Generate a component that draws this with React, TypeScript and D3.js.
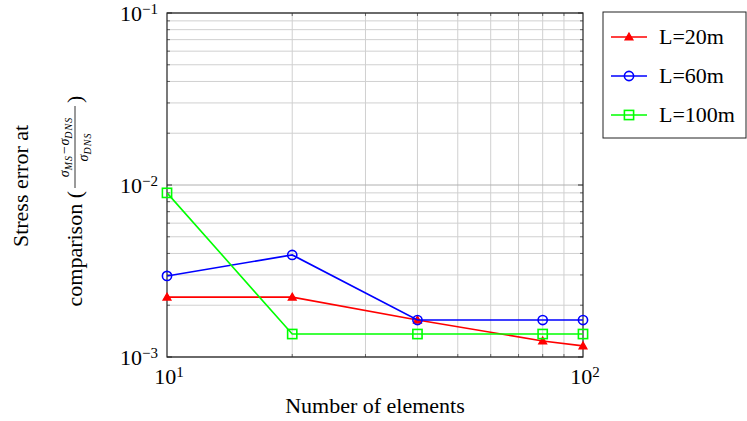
import React from "react";
import * as d3 from "d3";

// chart data
const elements = [10, 20, 40, 80, 100];
const stressL20 = [2.23e-3, 2.23e-3, 1.64e-3, 1.24e-3, 1.16e-3];
const stressL60 = [2.96e-3, 3.92e-3, 1.64e-3, 1.64e-3, 1.64e-3];
const stressL100 = [9.0e-3, 1.36e-3, 1.36e-3, 1.36e-3, 1.36e-3];
const seriesNames = ["L=20m", "L=60m", "L=100m"];
const seriesColors = ["#ff0000", "#0000ff", "#00ff00"];
const seriesMarkers = ["triangle", "circle", "square"];
const xTickExps = [1, 2];
const yTickExps = [-3, -2, -1];

const W = 747;
const H = 421;
const margin = { top: 13, right: 164, bottom: 64, left: 167 };
const FONT = "'Liberation Serif', 'Times New Roman', serif";
const FS = 22;

const Marker = ({ kind, x, y, color }: { kind: string; x: number; y: number; color: string }) => {
  if (kind === "triangle") {
    const s = 4;
    return (
      <path
        d={`M${x},${y - s} L${x + s},${y + s * 0.75} L${x - s},${y + s * 0.75} Z`}
        fill={color}
        stroke={color}
        strokeWidth={1.2}
      />
    );
  }
  if (kind === "circle") {
    return <circle cx={x} cy={y} r={4.6} fill="none" stroke={color} strokeWidth={1.6} />;
  }
  return <rect x={x - 4.6} y={y - 4.6} width={9.2} height={9.2} fill="none" stroke={color} strokeWidth={1.6} />;
};

const Pow = ({ x, y, exp, anchor }: { x: number; y: number; exp: number; anchor: string }) => {
  // "10" with superscript exponent
  const expStr = exp < 0 ? `\u2212${-exp}` : `${exp}`;
  return (
    <text x={x} y={y} textAnchor={anchor} fontFamily={FONT} fontSize={FS} fill="#000">
      10
      <tspan dy={-7} fontSize={15}>
        {expStr}
      </tspan>
    </text>
  );
};

export default function App() {
  const iw = W - margin.left - margin.right;
  const ih = H - margin.top - margin.bottom;

  const x = d3.scaleLog().domain([10, 100]).range([0, iw]);
  const y = d3.scaleLog().domain([1e-3, 1e-1]).range([ih, 0]);

  const xMinor = d3.range(2, 10).map((k) => k * 10);
  const yMinor: number[] = [];
  [1e-3, 1e-2].forEach((d) => d3.range(2, 10).forEach((k) => yMinor.push(k * d)));
  const yMajor = yTickExps.map((e) => Math.pow(10, e));

  const series = [stressL20, stressL60, stressL100];
  const line = d3
    .line<number>()
    .x((_, i) => x(elements[i]))
    .y((d) => y(d));

  const legendX = 603;
  const legendY = 12;

  return (
    <svg width={W} height={H} style={{ position: "absolute", left: 0, top: 0 }}>
      <rect width={W} height={H} fill="#fff" />
      <g transform={`translate(${margin.left},${margin.top})`}>
        {/* minor grid */}
        {xMinor.map((v) => (
          <line key={`xm${v}`} x1={x(v)} x2={x(v)} y1={0} y2={ih} stroke="#d0d0d0" strokeWidth={1} />
        ))}
        {yMinor.map((v) => (
          <line key={`ym${v}`} x1={0} x2={iw} y1={y(v)} y2={y(v)} stroke="#d0d0d0" strokeWidth={1} />
        ))}
        {/* major grid */}
        {yMajor.map((v) => (
          <line key={`yM${v}`} x1={0} x2={iw} y1={y(v)} y2={y(v)} stroke="#b0b0b0" strokeWidth={1} />
        ))}
        {/* inward ticks */}
        {yMinor.map((v) => (
          <g key={`yt${v}`} stroke="#666" strokeWidth={1}>
            <line x1={0} x2={3} y1={y(v)} y2={y(v)} />
            <line x1={iw - 3} x2={iw} y1={y(v)} y2={y(v)} />
          </g>
        ))}
        {xMinor.map((v) => (
          <g key={`xt${v}`} stroke="#666" strokeWidth={1}>
            <line x1={x(v)} x2={x(v)} y1={ih - 3} y2={ih} />
            <line x1={x(v)} x2={x(v)} y1={0} y2={3} />
          </g>
        ))}
        {yMajor.map((v) => (
          <g key={`yT${v}`} stroke="#333" strokeWidth={1}>
            <line x1={0} x2={5} y1={y(v)} y2={y(v)} />
            <line x1={iw - 5} x2={iw} y1={y(v)} y2={y(v)} />
          </g>
        ))}
        {/* frame */}
        <rect x={0} y={0} width={iw} height={ih} fill="none" stroke="#222" strokeWidth={1.2} />

        {/* series */}
        {series.map((s, si) => (
          <g key={`s${si}`}>
            <path d={line(s) || ""} fill="none" stroke={seriesColors[si]} strokeWidth={1.6} />
            {s.map((v, i) => (
              <Marker key={i} kind={seriesMarkers[si]} x={x(elements[i])} y={y(v)} color={seriesColors[si]} />
            ))}
          </g>
        ))}

        {/* tick labels */}
        {xTickExps.map((e) => (
          <Pow key={`xl${e}`} x={x(Math.pow(10, e)) + 2} y={ih + 27} exp={e} anchor="middle" />
        ))}
        {yTickExps.map((e) => (
          <Pow key={`yl${e}`} x={-9} y={y(Math.pow(10, e)) + 8} exp={e} anchor="end" />
        ))}
      </g>

      {/* x axis label */}
      <text x={375} y={413} textAnchor="middle" fontFamily={FONT} fontSize={FS}>
        Number of elements
      </text>

      {/* y axis label, two lines */}
      <text transform="translate(28,186) rotate(-90)" textAnchor="middle" fontFamily={FONT} fontSize={FS}>
        Stress error at
      </text>
      <g transform="translate(82,197) rotate(-90)" fontFamily={FONT}>
        <text x={6} y={0} textAnchor="end" fontSize={FS}>
          comparison (
        </text>
        <text x={50} y={-13} textAnchor="middle" fontSize={14} fontStyle="italic">
          σ<tspan fontSize={10} dy={3} letterSpacing={1}>MS</tspan>
          <tspan dy={-3}>−σ</tspan>
          <tspan fontSize={10} dy={3} letterSpacing={1}>DNS</tspan>
        </text>
        <line x1={9} x2={91} y1={-7} y2={-7} stroke="#000" strokeWidth={0.8} />
        <text x={50} y={6} textAnchor="middle" fontSize={14} fontStyle="italic">
          σ<tspan fontSize={10} dy={3} letterSpacing={1}>DNS</tspan>
        </text>
        <text x={94} y={0} textAnchor="start" fontSize={FS}>
          )
        </text>
      </g>

      {/* legend */}
      <g transform={`translate(${legendX},${legendY})`}>
        <rect x={0} y={0} width={143} height={126} fill="#fff" stroke="#222" strokeWidth={1} />
        {seriesNames.map((n, i) => {
          const ly = 25 + i * 39;
          return (
            <g key={n}>
              <line x1={8} x2={44} y1={ly} y2={ly} stroke={seriesColors[i]} strokeWidth={1.6} />
              <Marker kind={seriesMarkers[i]} x={26} y={ly} color={seriesColors[i]} />
              <text x={56} y={ly + 7} fontFamily={FONT} fontSize={FS}>
                {n}
              </text>
            </g>
          );
        })}
      </g>
    </svg>
  );
}
